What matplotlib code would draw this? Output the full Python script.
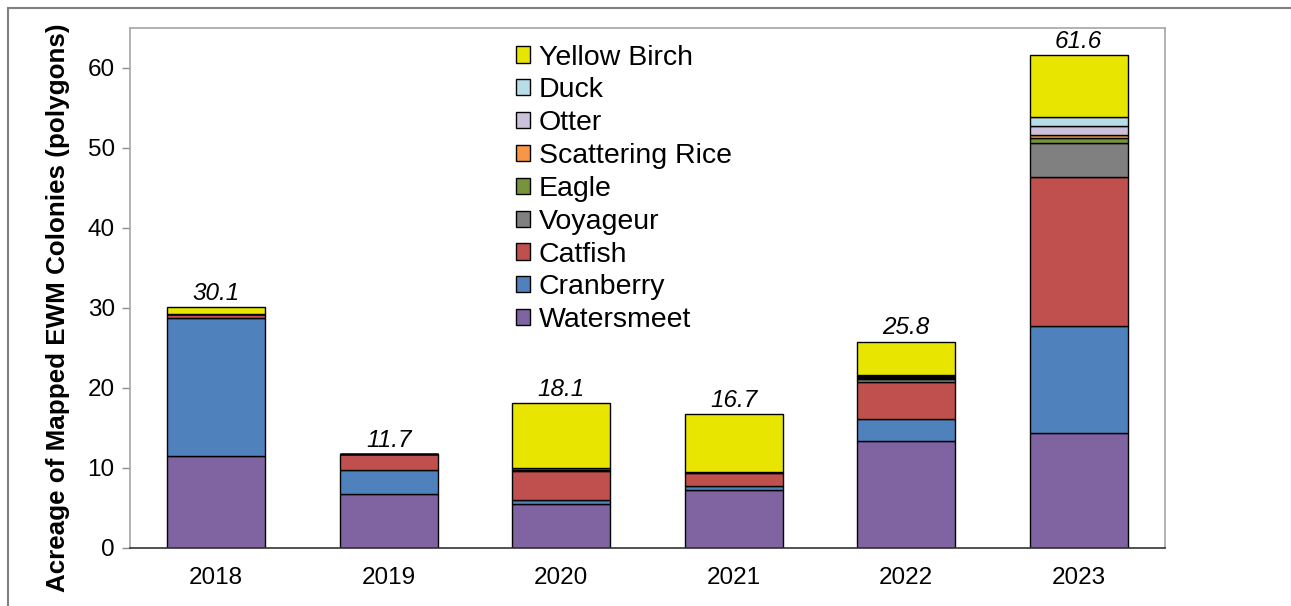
import matplotlib
matplotlib.use("Agg")
import matplotlib.pyplot as plt
from matplotlib.lines import Line2D
import numpy as np

plt.rcParams['font.family'] = ['Liberation Sans', 'DejaVu Sans']

years = ["2018", "2019", "2020", "2021", "2022", "2023"]
series_names = ["Watersmeet", "Cranberry", "Catfish", "Voyageur", "Eagle",
                "Scattering Rice", "Otter", "Duck", "Yellow Birch"]
watersmeet     = [11.5, 6.8, 5.5, 7.2, 13.4, 14.4]
cranberry      = [17.3, 3.0, 0.5, 0.6, 2.7, 13.3]
catfish        = [0.5, 1.9, 3.6, 1.6, 4.7, 18.7]
voyageur       = [0.0, 0.0, 0.1, 0.05, 0.3, 4.2]
eagle          = [0.0, 0.0, 0.05, 0.0, 0.2, 0.6]
scattering     = [0.0, 0.0, 0.3, 0.0, 0.1, 0.45]
otter          = [0.0, 0.0, 0.0, 0.0, 0.1, 1.1]
duck           = [0.0, 0.0, 0.0, 0.0, 0.1, 1.1]
yellow_birch   = [0.8, 0.0, 8.05, 7.25, 4.2, 7.75]
totals         = [30.1, 11.7, 18.1, 16.7, 25.8, 61.6]

series = [watersmeet, cranberry, catfish, voyageur, eagle, scattering, otter, duck, yellow_birch]
colors = ["#8064A2", "#4F81BD", "#C0504D", "#808080", "#77933C",
          "#F79646", "#CCC1DA", "#B7DEE8", "#E8E600"]

fig = plt.figure(figsize=(12.91, 6.06), dpi=100)
ax = fig.add_axes([130/1291, 58/606, (1165-130)/1291, (548-28)/606])

x = np.arange(len(years))
bottom = np.zeros(len(years))
handles = []
for name, vals, c in zip(series_names, series, colors):
    v = np.array(vals)
    b = ax.bar(x, v, width=0.57, bottom=bottom, color=c, edgecolor="black",
               linewidth=1.0, label=name)
    handles.append(b)
    bottom += v

for xi, t in zip(x, totals):
    ax.text(xi, t + 0.3, f"{t:.1f}", ha="center", va="bottom",
            fontsize=17.5, style="italic")

ax.set_xlim(-0.5, 5.5)
ax.set_ylim(0, 65)
ax.set_yticks([0, 10, 20, 30, 40, 50, 60])
ax.set_xticks(x)
ax.set_xticklabels(years)
ax.tick_params(axis="x", length=0, labelsize=17.5, pad=14)
ax.tick_params(axis="y", length=6, width=1, color="#8c8c8c", labelsize=17.5, pad=5)
for s in ["left", "top", "right"]:
    ax.spines[s].set_color("#a6a6a6")
    ax.spines[s].set_linewidth(1.2)
ax.spines["bottom"].set_color("#333333")
ax.spines["bottom"].set_linewidth(1.2)

ax.set_ylabel("Acreage of Mapped EWM Colonies (polygons)", fontsize=18.7,
              fontweight="bold")
ax.yaxis.set_label_coords(-0.058, 0.4615)

leg = ax.legend(handles[::-1], series_names[::-1], loc="upper left",
                bbox_to_anchor=(0.362, 0.99), frameon=False, fontsize=20.5,
                handlelength=0.5, handleheight=0.5, handletextpad=0.3,
                labelspacing=0.24, borderaxespad=0)

fig.add_artist(Line2D([8/1291, 1.0], [1 - 7.5/606, 1 - 7.5/606],
                      transform=fig.transFigure, color="#808080", linewidth=1.5))
fig.add_artist(Line2D([8/1291, 8/1291], [0, 1 - 7.5/606],
                      transform=fig.transFigure, color="#808080", linewidth=1.5))

fig.savefig("out.png", dpi=100)
